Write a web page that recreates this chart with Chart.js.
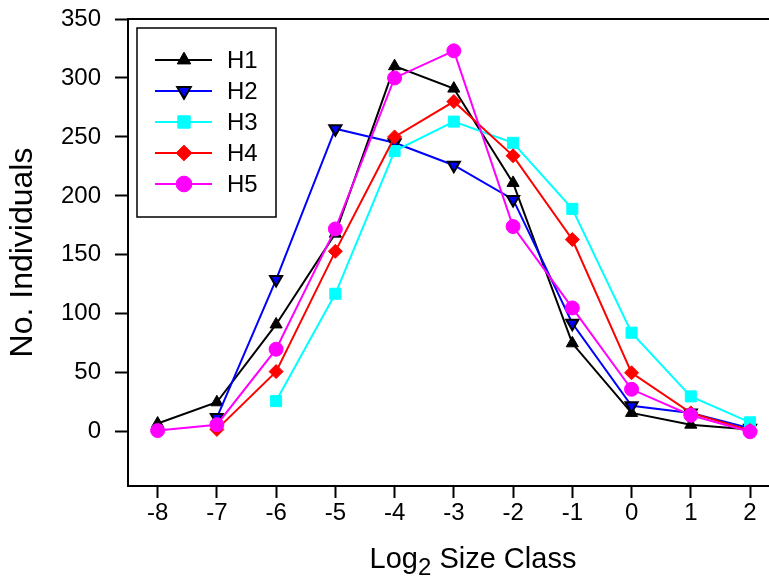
<!DOCTYPE html>
<html><head><meta charset="utf-8">
<style>html,body{margin:0;padding:0;background:#fff}#wrap{width:769px;height:579px;position:relative}</style>
<script src="https://cdn.jsdelivr.net/npm/chart.js"></script>
</head><body><div id="wrap"><canvas id="c" width="769" height="579"></canvas></div>
<script>
// ---- data ----
const sizeClasses = [-8, -7, -6, -5, -4, -3, -2, -1, 0, 1, 2];
const xTickValues = [-8, -7, -6, -5, -4, -3, -2, -1, 0, 1, 2];
const yTickValues = [0, 50, 100, 150, 200, 250, 300, 350];
const seriesNames = ['H1', 'H2', 'H3', 'H4', 'H5'];
const h1 = [7, 25, 91, 168, 310, 291, 211, 75, 16, 6, 2];
const h2 = [null, 12, 129, 257, 245, 226, 197, 92, 22, 16, 3];
const h3 = [null, null, 26, 117, 238, 263, 245, 189, 84, 30, 8];
const h4 = [null, 2, 51, 153, 250, 280, 234, 163, 50, 16, 1];
const h5 = [1, 6, 70, 172, 300, 323, 174, 105, 36, 14, 0];
const xTitleMain = 'Log';
const xTitleSub = '2';
const xTitleRest = ' Size Class';
const yTitle = 'No. Individuals';

// ---- styles ----
const seriesValues = [h1, h2, h3, h4, h5];
const lineColors = ['#000000', '#0000ff', '#00ffff', '#ff0000', '#ff00ff'];
const fillColors = ['#000000', '#0000ff', '#00ffff', '#ff0000', '#ff00ff'];
const edgeColors = ['#000000', '#000000', '#00ffff', '#ff0000', '#ff00ff'];
const edgeWidths = [1, 2, 1, 1, 1];
const markerStyles = ['triangle', 'triangle', 'rect', 'rectRot', 'circle'];
const markerRotations = [0, 180, 0, 0, 0];
const markerRadii = [7, 7, 7.8, 7, 7];

const FONT = '"Liberation Sans", Arial, Helvetica, sans-serif';
Chart.defaults.font.family = FONT;
Chart.defaults.color = '#000';

const datasets = seriesNames.map((name, i) => ({
  label: name,
  data: sizeClasses.map((x, j) => ({ x: x, y: seriesValues[i][j] })).filter(p => p.y !== null),
  borderColor: lineColors[i],
  backgroundColor: fillColors[i],
  borderWidth: 2,
  pointStyle: markerStyles[i],
  pointRotation: markerRotations[i],
  pointRadius: markerRadii[i],
  pointHoverRadius: markerRadii[i],
  pointBackgroundColor: fillColors[i],
  pointBorderColor: edgeColors[i],
  pointBorderWidth: edgeWidths[i],
  fill: false,
  tension: 0,
  showLine: true,
  spanGaps: true,
  clip: false,
  order: seriesNames.length - i
}));

function drawMarker(ctx, style, rotation, r, x, y, bw) {
  if (Chart.helpers && Chart.helpers.drawPoint) {
    Chart.helpers.drawPoint(ctx, { pointStyle: style, rotation: rotation, radius: r, borderWidth: bw }, x, y);
    return;
  }
  ctx.beginPath(); ctx.arc(x, y, r, 0, Math.PI * 2); ctx.fill(); if (bw) ctx.stroke();
}

const decorPlugin = {
  id: 'decor',
  afterDraw(chart) {
    const ctx = chart.ctx, a = chart.chartArea;
    ctx.save();
    // top frame line
    ctx.strokeStyle = '#000'; ctx.lineWidth = 2;
    ctx.beginPath(); ctx.moveTo(a.left - 1, a.top); ctx.lineTo(chart.width, a.top); ctx.stroke();
    // legend
    const L = a.left + 9, T = a.top + 9, W = 139, H = 189;
    ctx.fillStyle = '#fff';
    ctx.fillRect(L, T, W, H);
    ctx.lineWidth = 1.5; ctx.strokeStyle = '#000';
    ctx.strokeRect(L, T, W, H);
    chart.data.datasets.forEach((ds, i) => {
      const y = T + 32 + i * 31;
      ctx.strokeStyle = ds.borderColor; ctx.lineWidth = ds.borderWidth;
      ctx.beginPath(); ctx.moveTo(L + 18, y); ctx.lineTo(L + 75, y); ctx.stroke();
      ctx.fillStyle = ds.pointBackgroundColor; ctx.strokeStyle = ds.pointBorderColor;
      ctx.lineWidth = ds.pointBorderWidth;
      drawMarker(ctx, ds.pointStyle, ds.pointRotation, ds.pointRadius * 1.12, L + 47, y, ds.pointBorderWidth);
      ctx.fillStyle = '#000';
      ctx.font = '24px ' + FONT;
      ctx.textBaseline = 'middle'; ctx.textAlign = 'left';
      ctx.fillText(ds.label, L + 90, y + 1);
    });
    // x axis title with subscript
    const big = '29px ' + FONT, small = '24px ' + FONT;
    ctx.font = big; const w1 = ctx.measureText(xTitleMain).width; const w3 = ctx.measureText(xTitleRest).width;
    ctx.font = small; const w2 = ctx.measureText(xTitleSub).width;
    const cx = a.left + 345, base = chart.height - 11;
    let x0 = cx - (w1 + w2 + w3) / 2;
    ctx.fillStyle = '#000'; ctx.textAlign = 'left'; ctx.textBaseline = 'alphabetic';
    ctx.font = big; ctx.fillText(xTitleMain, x0, base);
    ctx.font = small; ctx.fillText(xTitleSub, x0 + w1, base + 7);
    ctx.font = big; ctx.fillText(xTitleRest, x0 + w1 + w2, base);
    ctx.restore();
  }
};

function zeroX(s) {
  s.height = 93; s.paddingLeft = 0; s.paddingRight = 0;
  if (s._margins) { s._margins.left = 0; s._margins.right = 0; }
}
function zeroY(s) {
  s.width = 128; s.paddingTop = 0; s.paddingBottom = 0;
  if (s._margins) { s._margins.top = 0; s._margins.bottom = 0; }
}

new Chart(document.getElementById('c'), {
  type: 'line',
  data: { datasets: datasets },
  plugins: [decorPlugin],
  options: {
    responsive: false,
    animation: false,
    devicePixelRatio: 1,
    layout: { autoPadding: false, padding: { top: 19, right: 0, bottom: 0, left: 0 } },
    plugins: { legend: { display: false }, tooltip: { enabled: false } },
    scales: {
      x: {
        type: 'linear', position: 'bottom', min: -8.5, max: 2.32,
        afterBuildTicks: s => { s.ticks = xTickValues.map(v => ({ value: v })); },
        afterFit: zeroX,
        grid: { display: true, drawOnChartArea: false, drawTicks: true, tickLength: 12, tickWidth: 2, tickColor: '#000' },
        border: { display: true, color: '#000', width: 2 },
        ticks: { color: '#000', font: { size: 24 }, padding: 1, maxRotation: 0, autoSkip: false, callback: v => String(v) }
      },
      y: {
        type: 'linear', position: 'left', min: -46, max: 350,
        afterBuildTicks: s => { s.ticks = yTickValues.map(v => ({ value: v })); },
        afterFit: zeroY,
        grid: { display: true, drawOnChartArea: false, drawTicks: true, tickLength: 13, tickWidth: 2, tickColor: '#000' },
        border: { display: true, color: '#000', width: 2 },
        ticks: { color: '#000', font: { size: 24 }, padding: 14, autoSkip: false, callback: v => String(v) },
        title: { display: true, text: yTitle, font: { size: 32 }, padding: { top: 4, bottom: 0 }, color: '#000' }
      }
    }
  }
});
</script>
</body></html>
